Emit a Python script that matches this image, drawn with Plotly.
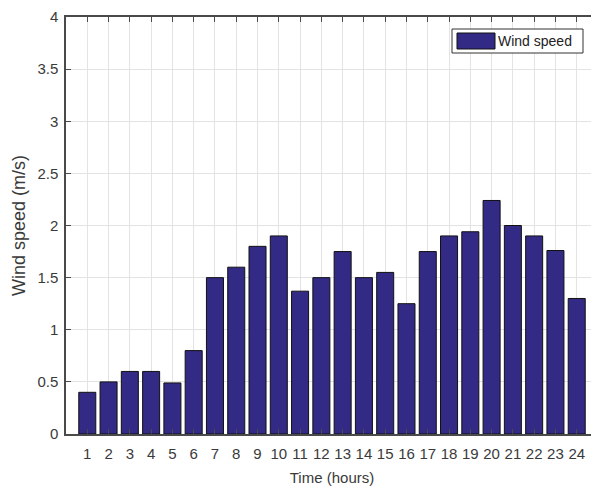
import plotly.graph_objects as go

hours = list(range(1, 25))
wind_speed = [0.40, 0.50, 0.60, 0.60, 0.49, 0.80, 1.50, 1.60, 1.80, 1.90, 1.37, 1.50,
              1.75, 1.50, 1.55, 1.25, 1.75, 1.90, 1.94, 2.24, 2.00, 1.90, 1.76, 1.30]
y_ticks = [0, 0.5, 1, 1.5, 2, 2.5, 3, 3.5, 4]
y_ticktext = ["0", "0.5", "1", "1.5", "2", "2.5", "3", "3.5", "4"]
x_ticktext = [str(h) for h in hours]
series_name = "Wind speed"

bar_color = "#332a86"
axis_color = "#4a4a4a"
grid_color = "#e3e3e3"
text_color = "#3a3a3a"
font_family = "Liberation Sans, Arial, sans-serif"

# figure is placed at (8,8) in the page by the body margin
W, H = 591, 478
L, R, T, B = 58, 1, 9, 52
pw, ph = W - L - R, H - T - B

fig = go.Figure()
fig.add_trace(go.Bar(
    x=hours, y=wind_speed, width=0.8, name=series_name,
    marker=dict(color=bar_color, line=dict(color="#111111", width=1)),
    showlegend=False,
))

axis_common = dict(
    showline=True, linecolor=axis_color, linewidth=1.5, mirror="allticks",
    ticks="inside", ticklen=5, tickcolor=axis_color, tickwidth=1,
    showgrid=True, gridcolor=grid_color, gridwidth=1, zeroline=False,
    tickfont=dict(family=font_family, size=15, color=text_color),
    automargin=False, ticklabeloverflow="allow",
)

fig.update_layout(
    width=W, height=H,
    margin=dict(l=L, r=R, t=T, b=B),
    paper_bgcolor="white", plot_bgcolor="white",
    font=dict(family=font_family, color=text_color),
    xaxis=dict(
        range=[0, 25], tickvals=hours, ticktext=x_ticktext, ticklabelstandoff=5,
        title=dict(text="Time (hours)", font=dict(family=font_family, size=15, color=text_color), standoff=12),
        **axis_common,
    ),
    yaxis=dict(
        range=[0, 4], tickvals=y_ticks, ticktext=y_ticktext, ticklabelstandoff=3,
        title=dict(text="Wind speed (m/s)", font=dict(family=font_family, size=18, color=text_color), standoff=7),
        **axis_common,
    ),
)

def px(xp):
    return (xp - 8 - L) / pw

def py(yp):
    return (H - B - (yp - 8)) / ph

# Legend box (MATLAB style, wide swatch)
fig.add_shape(type="rect", xref="paper", yref="paper",
              x0=px(452), x1=px(583), y0=py(53), y1=py(29),
              line=dict(color="#333333", width=1), fillcolor="white", layer="above")
fig.add_shape(type="rect", xref="paper", yref="paper",
              x0=px(457), x1=px(495), y0=py(49), y1=py(33),
              line=dict(color="#111111", width=1), fillcolor=bar_color, layer="above")
fig.add_annotation(xref="paper", yref="paper", x=px(496), y=py(41),
                   text=series_name, showarrow=False, xanchor="left", yanchor="middle",
                   font=dict(family=font_family, size=14, color="#222222"))

fig.write_html("out.html")
